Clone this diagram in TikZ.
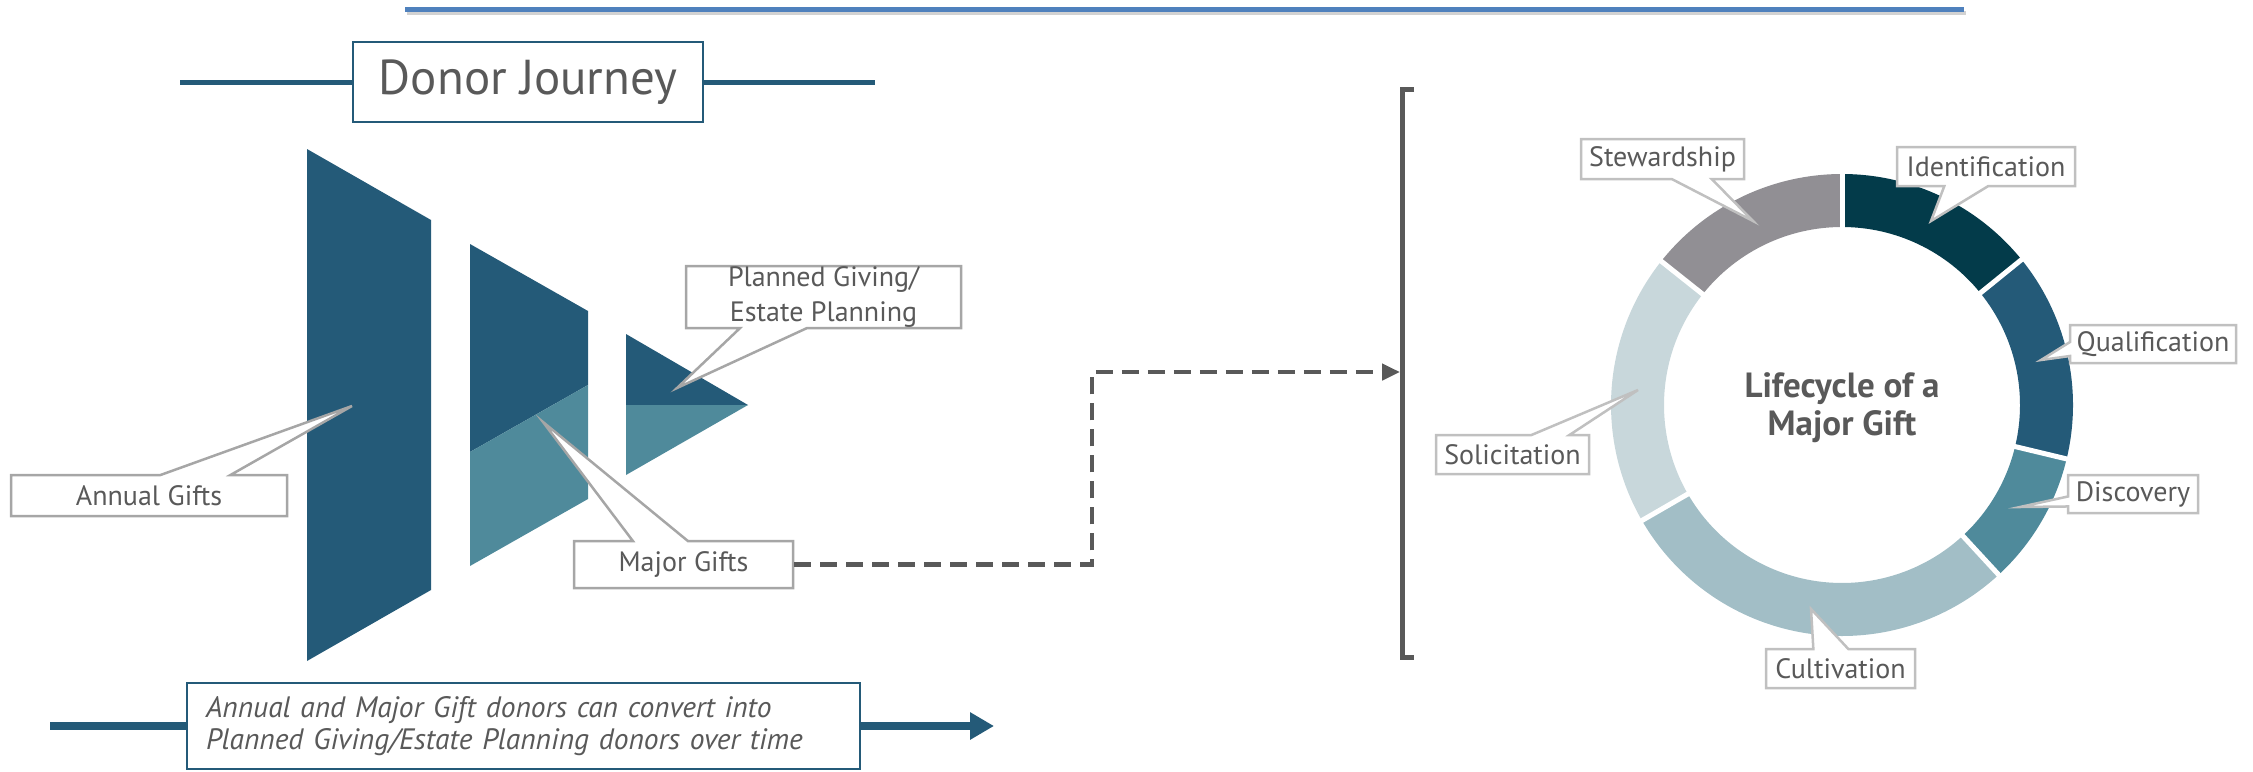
\documentclass[tikz,border=0pt]{standalone}
\usepackage{fontspec}
\setmainfont{PT Sans}
\usetikzlibrary{arrows.meta,shapes.callouts}

\definecolor{jblue}{HTML}{245A78}
\definecolor{jteal}{HTML}{4F8A9B}
\definecolor{jtext}{HTML}{595959}
\definecolor{jline}{HTML}{4F81BD}
\definecolor{cgray}{HTML}{A6A6A6}
\definecolor{cpale}{HTML}{C0C0C0}
\definecolor{sIdent}{HTML}{033B4A}
\definecolor{sCult}{HTML}{A2BEC6}
\definecolor{sSolic}{HTML}{C8D7DB}
\definecolor{sStew}{HTML}{918F94}

\tikzset{
  tag/.style={rectangle callout, draw=cgray, line width=2.5pt, fill=white, text=jtext,
    inner sep=0pt, align=center, font=\fontsize{28}{35}\selectfont},
  ringtag/.style={tag, draw=cpale},
  frame/.style={draw=jblue, line width=2pt, fill=white, text=jtext, inner sep=0pt},
}

\begin{document}
\begin{tikzpicture}[x=1pt,y=-1pt]
\useasboundingbox (0,0) rectangle (2253,771);

% Top rule
\draw[gray!35, line width=4pt] (407,13) -- (1966,13);
\draw[jline, line width=5pt] (405,9) -- (1964,9);

% Title
\draw[jblue, line width=5pt] (180,82) -- (875,82);
\node[frame, minimum width=350pt, minimum height=80pt, font=\fontsize{49}{56}\selectfont] (title) at (528,82) {Donor Journey};

% Funnel
\fill[jblue] (307,149) -- (431,220) -- (431,590) -- (307,661) -- cycle;
\fill[jblue] (470,244) -- (588,311) -- (588,385) -- (470,452) -- cycle;
\fill[jteal] (470,452) -- (588,385) -- (588,499) -- (470,566) -- cycle;
\fill[jblue] (626,334) -- (748,405) -- (626,405) -- cycle;
\fill[jteal] (626,405) -- (748,405) -- (626,475) -- cycle;

% Funnel labels
\coordinate (tipAnnual) at (352,406);
\coordinate (tipMajor) at (543,422);
\coordinate (tipPlanned) at (677,388);
\node[tag, minimum width=276pt, minimum height=41pt, callout absolute pointer={(tipAnnual)},
  callout pointer width=70pt] (annual) at (149,495.5) {Annual Gifts};
\node[tag, minimum width=219pt, minimum height=47pt, callout absolute pointer={(tipMajor)},
  callout pointer width=55pt] (major) at (683.5,564.5) {Major Gifts};
\node[tag, minimum width=275pt, minimum height=62pt, callout absolute pointer={(tipPlanned)},
  callout pointer width=67pt] (planned) at (823.5,297) {Planned Giving/\\Estate Planning};

% Time arrow
\coordinate (tStart) at (50,726);
\coordinate (tEnd) at (994,726);
\draw[jblue, line width=8pt, -{Triangle[length=24pt,width=26pt]}] (tStart) -- (tEnd);
\node[frame, minimum width=673pt, minimum height=86pt, text width=635pt, align=left,
  font=\itshape\fontsize{29.5}{32}\selectfont] (note) at (523.5,726)
  {Annual and Major Gift donors can convert into\\Planned Giving/Estate Planning donors over time};

% Bracket
\draw[jtext, line width=5pt] (1414,89) -- (1402,89) -- (1402,657) -- (1414,657);
\coordinate (brk) at (1400,372);
\coordinate (bend) at (1092,372);
\draw[jtext, line width=4.5pt, dash pattern=on 17pt off 9pt, -{Triangle[length=18pt,width=16pt]}]
  (major.east) -| (bend) -- (brk);

% Ring
\begin{scope}[shift={(1842,405)}, yscale=-1]
\foreach \a/\b/\c in {39/90/sIdent, -13.5/39/jblue, -47.3/-13.5/jteal, -150/-47.3/sCult,
  141.5/210/sSolic, 90/141.5/sStew}
  \fill[\c] (\a:231) arc[start angle=\a, end angle=\b, radius=231]
    -- (\b:178) arc[start angle=\b, end angle=\a, radius=178] -- cycle;
\foreach \a in {90,39,-13.5,-47.3,-150,141.5}
  \draw[white, line width=5pt] (\a:174) -- (\a:235);
\end{scope}
\node[text=jtext, font=\bfseries\fontsize{35}{38}\selectfont, align=center] (life) at (1842,408)
  {Lifecycle of a\\Major Gift};

% Ring labels
\coordinate (tipStew) at (1753,221);
\coordinate (tipIdent) at (1931,221);
\coordinate (tipQual) at (2041,360);
\coordinate (tipDisc) at (2020,507);
\coordinate (tipCult) at (1811,609);
\coordinate (tipSolic) at (1638,390);
\node[ringtag, minimum width=163pt, minimum height=40pt, callout absolute pointer={(tipStew)},
  callout pointer width=40pt] (stew) at (1662.5,159) {Stewardship};
\node[ringtag, minimum width=178pt, minimum height=39pt, callout absolute pointer={(tipIdent)},
  callout pointer width=44pt] (ident) at (1986,166.5) {Identification};
\node[ringtag, minimum width=166pt, minimum height=38pt, callout absolute pointer={(tipQual)},
  callout pointer width=14pt] (qual) at (2153,344) {Qualification};
\node[ringtag, minimum width=130pt, minimum height=38pt, callout absolute pointer={(tipDisc)},
  callout pointer width=10pt] (disc) at (2133,494) {Discovery};
\node[ringtag, minimum width=149pt, minimum height=39pt, callout absolute pointer={(tipCult)},
  callout pointer width=35pt] (cult) at (1840.5,668.5) {Cultivation};
\node[ringtag, minimum width=153pt, minimum height=39pt, callout absolute pointer={(tipSolic)},
  callout pointer width=38pt] (solic) at (1512.5,454.5) {Solicitation};

\end{tikzpicture}
\end{document}
